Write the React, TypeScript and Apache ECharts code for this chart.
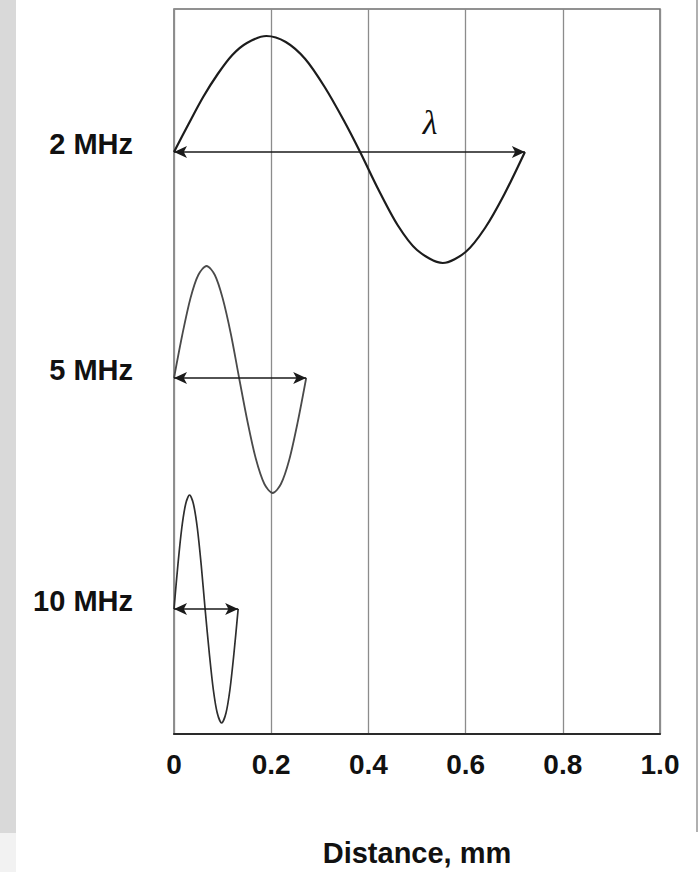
import React, { useEffect, useRef } from "react";
import * as echarts from "echarts";

// Tick labels on the distance axis (mm)
const xTicks = ["0", "0.2", "0.4", "0.6", "0.8", "1.0"];

// Wave names, their baselines (vertical position, arbitrary units) and wavelengths (mm)
const waveNames = ["2 MHz", "5 MHz", "10 MHz"];
const baselines = [582, 356, 125];
const wavelengths = [0.722, 0.272, 0.132];

// 2 MHz wave: distance (mm) and displacement
const wave2x = [0, 0.03, 0.06, 0.09, 0.12, 0.15, 0.19, 0.23, 0.27, 0.31, 0.35, 0.383, 0.42, 0.46, 0.5, 0.553, 0.6, 0.64, 0.68, 0.722];
const wave2y = [0, 28, 55, 78, 97, 109, 116, 110, 93, 65, 31, 0, -37, -73, -98, -111, -100, -76, -42, 0];

// 5 MHz wave
const wave5x = [0, 0.017, 0.034, 0.05, 0.067, 0.084, 0.1, 0.117, 0.134, 0.151, 0.168, 0.186, 0.203, 0.22, 0.237, 0.255, 0.272];
const wave5y = [0, 43, 80, 103, 112, 103, 80, 44, 0, -43, -80, -106, -115, -106, -82, -43, 0];

// 10 MHz wave
const wave10x = [0, 0.008, 0.016, 0.024, 0.032, 0.04, 0.048, 0.056, 0.064, 0.073, 0.081, 0.089, 0.098, 0.107, 0.115, 0.123, 0.132];
const wave10y = [0, 44, 81, 105, 114, 105, 81, 44, 0, -46, -81, -104, -114, -104, -81, -46, 0];

// Position of the λ annotation
const lambdaPos = [0.527, 612];

const waveXs = [wave2x, wave5x, wave10x];
const waveYs = [wave2y, wave5y, wave10y];
const lineColors = ["#1c1c1c", "#4a4a4a", "#2e2e2e"];
const lineWidths = [2.2, 1.8, 1.7];

export default function App() {
  const ref = useRef<HTMLDivElement>(null);

  useEffect(() => {
    if (!ref.current) return;
    const chart = echarts.init(ref.current, null, { renderer: "svg" });

    const waveSeries = waveNames.map((name, k) => ({
      type: "line",
      name,
      smooth: 0.3,
      showSymbol: false,
      symbol: "none",
      lineStyle: { color: lineColors[k], width: lineWidths[k] },
      data: waveXs[k].map((x, i) => [x, baselines[k] + waveYs[k][i]]),
      markLine: {
        silent: true,
        symbol: ["arrow", "arrow"],
        symbolSize: [9, 13],
        label: { show: false },
        lineStyle: { color: "#1a1a1a", width: 1.6, type: "solid" },
        data: [[{ coord: [0, baselines[k]] }, { coord: [wavelengths[k], baselines[k]] }]],
      },
      z: 3,
    }));

    const option = {
      animation: false,
      backgroundColor: "#ffffff",
      grid: {
        left: 174,
        right: 38,
        top: 9,
        bottom: 138,
        show: true,
        borderColor: "#6e6e6e",
        borderWidth: 1.5,
      },
      graphic: [
        { type: "rect", left: 0, top: 0, shape: { width: 16, height: 833 }, style: { fill: "#d9d9d9" }, z: -10 },
        { type: "rect", left: 0, top: 833, shape: { width: 16, height: 39 }, style: { fill: "#f2f2f2" }, z: -10 },
        { type: "line", shape: { x1: 697, y1: 0, x2: 697, y2: 832 }, style: { stroke: "#b0b0b0", lineWidth: 2 }, z: -10 },
      ],
      xAxis: {
        type: "value",
        min: 0,
        max: 1,
        interval: 0.2,
        name: "Distance, mm",
        nameLocation: "middle",
        nameGap: 104,
        nameTextStyle: {
          fontFamily: "Liberation Sans, Arial, sans-serif",
          fontSize: 29,
          fontWeight: "bold",
          color: "#111111",
        },
        axisLine: { show: true, lineStyle: { color: "#2a2a2a", width: 2 } },
        axisTick: { show: false },
        axisLabel: {
          margin: 16,
          fontFamily: "Liberation Sans, Arial, sans-serif",
          fontSize: 28,
          fontWeight: "bold",
          color: "#111111",
          formatter: (v: number) => xTicks[Math.round(v / 0.2)] ?? "",
        },
        splitLine: { show: true, lineStyle: { color: "#8c8c8c", width: 1.3 } },
      },
      yAxis: {
        type: "value",
        min: 0,
        max: 725,
        show: false,
        splitLine: { show: false },
      },
      series: [
        ...waveSeries,
        {
          type: "scatter",
          symbolSize: 0,
          silent: true,
          itemStyle: { opacity: 1 },
          data: waveNames.map((n, k) => ({ value: [0, baselines[k]], name: n })),
          label: {
            show: true,
            position: "left",
            distance: 41,
            offset: [0, -8],
            formatter: (p: any) => p.name,
            fontFamily: "Liberation Sans, Arial, sans-serif",
            fontSize: 29,
            fontWeight: "bold",
            color: "#111111",
          },
          z: 4,
        },
        {
          type: "scatter",
          symbolSize: 0,
          silent: true,
          itemStyle: { opacity: 1 },
          data: [{ value: lambdaPos, name: "λ" }],
          label: {
            show: true,
            position: "inside",
            formatter: "λ",
            fontFamily: "Liberation Serif, DejaVu Serif, serif",
            fontSize: 34,
            fontStyle: "italic",
            color: "#111111",
          },
          z: 4,
        },
      ],
    };

    chart.setOption(option as any);
    return () => chart.dispose();
  }, []);

  return (
    <div
      ref={ref}
      style={{ position: "fixed", left: 0, top: 0, width: 698, height: 872, background: "#fff" }}
    />
  );
}
